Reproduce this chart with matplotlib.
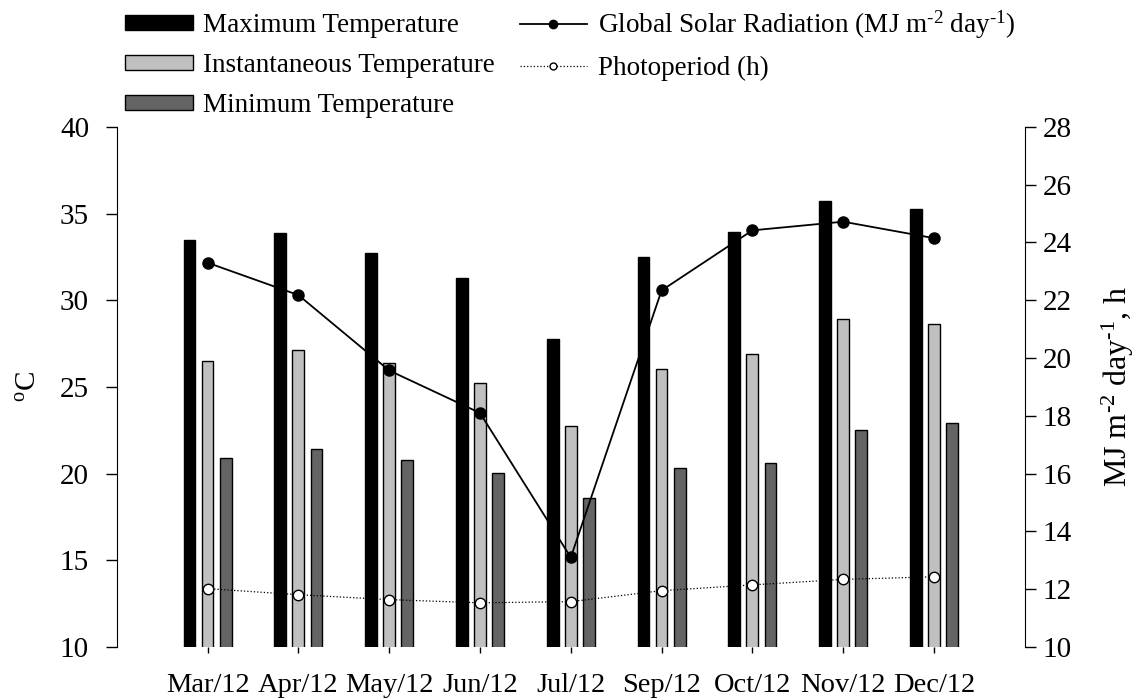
import numpy as np
import matplotlib
matplotlib.use('Agg')
import matplotlib.pyplot as plt
from matplotlib.patches import Patch
from matplotlib.lines import Line2D

plt.rcParams['font.family'] = ['Liberation Serif', 'DejaVu Serif']
plt.rcParams['mathtext.fontset'] = 'custom'
plt.rcParams['mathtext.rm'] = 'Liberation Serif'
plt.rcParams['mathtext.it'] = 'Liberation Serif'

months = ['Mar/12', 'Apr/12', 'May/12', 'Jun/12', 'Jul/12',
          'Sep/12', 'Oct/12', 'Nov/12', 'Dec/12']
t_max = [33.5, 33.9, 32.7, 31.3, 27.75, 32.5, 33.95, 35.75, 35.25]
t_inst = [26.5, 27.15, 26.4, 25.25, 22.75, 26.05, 26.9, 28.9, 28.65]
t_min = [20.9, 21.4, 20.8, 20.05, 18.6, 20.3, 20.6, 22.5, 22.9]
radiation = [23.3, 22.18, 19.57, 18.1, 13.1, 22.34, 24.42, 24.72, 24.15]
photoperiod = [12.02, 11.81, 11.64, 11.53, 11.57, 11.95, 12.15, 12.34, 12.43]

x = np.arange(len(months))
w = 0.13
off = 0.2

fig = plt.figure(figsize=(11.45, 7.0), dpi=100)
ax = fig.add_axes([0.102, 0.0757, 0.793, 0.743])

ax.bar(x - off, t_max, w, color='black', edgecolor='black', linewidth=1)
ax.bar(x, t_inst, w, color='#c0c0c0', edgecolor='black', linewidth=1)
ax.bar(x + off, t_min, w, color='#646464', edgecolor='black', linewidth=1)

ax.set_xlim(-1, 9)
ax.set_ylim(10, 40)
ax.set_yticks(range(10, 41, 5))
ax.set_xticks(x)
ax.set_xticklabels(months, fontsize=20.5)
ax.tick_params(axis='x', length=4.5, width=1, direction='out', pad=14)
ax.tick_params(axis='y', labelsize=21, length=8, width=1, direction='out', pad=12)
ax.set_ylabel('$^{\\rm o}$C', fontsize=21, labelpad=13)
for s in ['top', 'bottom', 'right']:
    ax.spines[s].set_visible(False)

ax2 = ax.twinx()
ax2.plot(x, radiation, '-o', color='black', linewidth=1.3, markersize=8)
ax2.plot(x, photoperiod, ':o', color='black', linewidth=0.9,
         markersize=7.5, markerfacecolor='white', markeredgecolor='black')
ax2.set_ylim(10, 28)
ax2.set_yticks(range(10, 29, 2))
ax2.tick_params(axis='y', labelsize=21, length=8, width=1, direction='out', pad=5)
ax2.set_ylabel('MJ m$^{\u2010 2}$ day$^{\u2010 1}$, h', fontsize=23, labelpad=20)
for s in ['top', 'bottom', 'left']:
    ax2.spines[s].set_visible(False)

handles = [
    Patch(facecolor='black', edgecolor='black', label='Maximum Temperature'),
    Patch(facecolor='#c0c0c0', edgecolor='black', label='Instantaneous Temperature'),
    Patch(facecolor='#646464', edgecolor='black', label='Minimum Temperature'),
    Line2D([], [], color='black', marker='o', markersize=6, linewidth=1.3,
           label='Global Solar Radiation (MJ m$^{\u2010 2}$ day$^{\u2010 1}$)'),
    Line2D([], [], color='black', linestyle=':', linewidth=0.9, marker='o',
           markersize=5, markerfacecolor='white', markeredgecolor='black',
           label='Photoperiod (h)'),
]
fig.legend(handles=handles, loc='upper left', bbox_to_anchor=(0.102, 1.0),
           ncol=2, frameon=False, fontsize=19.5, handlelength=2.5,
           handleheight=0.5, handletextpad=0.4, columnspacing=0.9,
           labelspacing=0.55, borderpad=0.1, borderaxespad=0.2)

fig.savefig('out.png', dpi=100)
